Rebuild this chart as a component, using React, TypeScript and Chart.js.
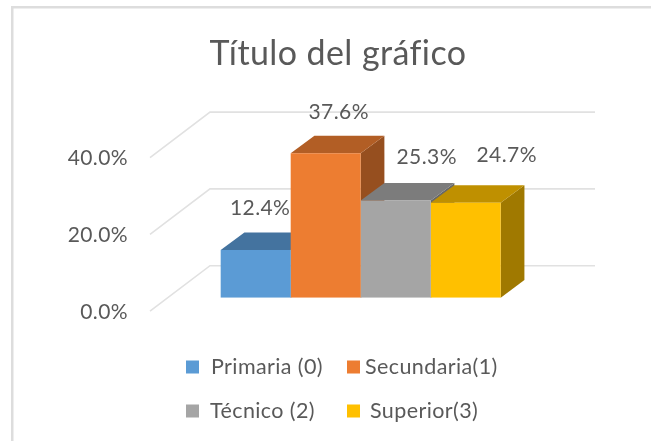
import React, { useEffect, useRef } from "react";
import { Chart, registerables } from "chart.js";

Chart.register(...registerables);

const categories = [""];
const seriesNames = ["Primaria (0)", "Secundaria(1)", "Técnico (2)", "Superior(3)"];
const primaria = [12.4];
const secundaria = [37.6];
const tecnico = [25.3];
const superior = [24.7];
const seriesValues = [primaria, secundaria, tecnico, superior];
const frontColors = ["#5B9BD5", "#ED7D31", "#A5A5A5", "#FFC000"];
const topColors = ["#44739F", "#B25E25", "#7C7C7C", "#BF9000"];
const sideColors = ["#3A6288", "#964F1F", "#686868", "#A07900"];
const titleText = "Título del gráfico";
const yTicks = [0, 20, 40];

const FONT = "Lato, Carlito, sans-serif";
const TEXT = "#595959";
const GRID = "#E1E1E1";
const DEPTH_X = 23.7;
const DEPTH_Y = 17.6;

const threeD = {
  id: "threeD",
  beforeDraw(chart: any) {
    chart.ctx.letterSpacing = "0.4px";
  },
  beforeDatasetsDraw(chart: any) {
    const ctx = chart.ctx;
    const y = chart.scales.y;
    ctx.save();
    // page frame (left and top only)
    ctx.fillStyle = "#DDDDDD";
    ctx.fillRect(11, 6, 640, 2.5);
    ctx.fillRect(11, 6, 2.5, 435);
    // wall and floor grid lines
    ctx.strokeStyle = GRID;
    ctx.lineWidth = 1.6;
    yTicks.forEach((t) => {
      const p = y.getPixelForValue(t);
      ctx.beginPath();
      ctx.moveTo(150, p + 13.5);
      ctx.lineTo(210, p - 32);
      ctx.lineTo(595, p - 32);
      ctx.stroke();
    });
    // top and side faces
    seriesValues.forEach((_, i) => {
      const bar: any = chart.getDatasetMeta(i).data[0];
      const l = bar.x - bar.width / 2;
      const r = bar.x + bar.width / 2;
      ctx.fillStyle = sideColors[i];
      ctx.beginPath();
      ctx.moveTo(r, bar.y);
      ctx.lineTo(r + DEPTH_X, bar.y - DEPTH_Y);
      ctx.lineTo(r + DEPTH_X, bar.base - DEPTH_Y);
      ctx.lineTo(r, bar.base);
      ctx.closePath();
      ctx.fill();
      ctx.fillStyle = topColors[i];
      ctx.beginPath();
      ctx.moveTo(l, bar.y);
      ctx.lineTo(l + DEPTH_X, bar.y - DEPTH_Y);
      ctx.lineTo(r + DEPTH_X, bar.y - DEPTH_Y);
      ctx.lineTo(r, bar.y);
      ctx.closePath();
      ctx.fill();
    });
    ctx.restore();
  },
  afterDatasetsDraw(chart: any) {
    const ctx = chart.ctx;
    ctx.save();
    ctx.fillStyle = TEXT;
    ctx.font = `21px ${FONT}`;
    ctx.textAlign = "center";
    ctx.textBaseline = "middle";
    // manual label placement, as in the source chart
    const labelShift = [[4.5, -42], [13, -41], [31, -43], [41, -47.7]];
    seriesValues.forEach((vals, i) => {
      const bar: any = chart.getDatasetMeta(i).data[0];
      ctx.fillText(vals[0].toFixed(1) + "%", bar.x + labelShift[i][0], bar.y + labelShift[i][1]);
    });
    // legend in two aligned rows
    const slots = [[186, 211, 367], [347, 365, 367], [186, 210, 411], [347, 370, 411]];
    ctx.textAlign = "left";
    ctx.font = `21.5px ${FONT}`;
    seriesNames.forEach((name, i) => {
      const [bx, tx, cy] = slots[i];
      ctx.fillStyle = frontColors[i];
      ctx.fillRect(bx, cy - 6.5, 13, 13);
      ctx.fillStyle = TEXT;
      ctx.fillText(name, tx, cy);
    });
    ctx.restore();
  },
};

export default function App() {
  const ref = useRef<HTMLCanvasElement>(null);
  useEffect(() => {
    const chart = new Chart(ref.current!, {
      type: "bar",
      data: {
        labels: categories,
        datasets: seriesNames.map((name, i) => ({
          label: name,
          data: seriesValues[i],
          backgroundColor: frontColors[i],
          borderWidth: 0,
        })),
      },
      options: {
        responsive: false,
        animation: false,
        categoryPercentage: 0.6645,
        barPercentage: 1,
        layout: { padding: { left: 50, right: 25, top: 0, bottom: 143.3 } },
        plugins: {
          legend: { display: false },
          tooltip: { enabled: false },
          title: {
            display: true,
            text: titleText,
            color: TEXT,
            font: { family: FONT, size: 34, weight: "normal", lineHeight: 1.2 },
            padding: { top: 34, bottom: 69.3 },
          },
        },
        scales: {
          x: { display: false },
          y: {
            min: 0,
            max: 40,
            afterFit(scale: any) {
              scale.width = 100;
            },
            grid: { display: false, drawTicks: false },
            border: { display: false },
            ticks: {
              stepSize: 20,
              padding: 22,
              labelOffset: 14.5,
              color: TEXT,
              font: { family: FONT, size: 21 },
              callback: (v: any) => Number(v).toFixed(1) + "%",
            },
          },
          spacer: {
            position: "right",
            display: true,
            afterFit(scale: any) {
              scale.width = 54.6;
            },
            grid: { display: false, drawTicks: false },
            border: { display: false },
            ticks: { display: false },
          },
        },
      } as any,
      plugins: [threeD],
    });
    return () => chart.destroy();
  }, []);
  return (
    <canvas
      ref={ref}
      width={651}
      height={441}
      style={{ position: "absolute", left: 0, top: 0, display: "block", background: "#fff", filter: "blur(0.3px)" }}
    />
  );
}
